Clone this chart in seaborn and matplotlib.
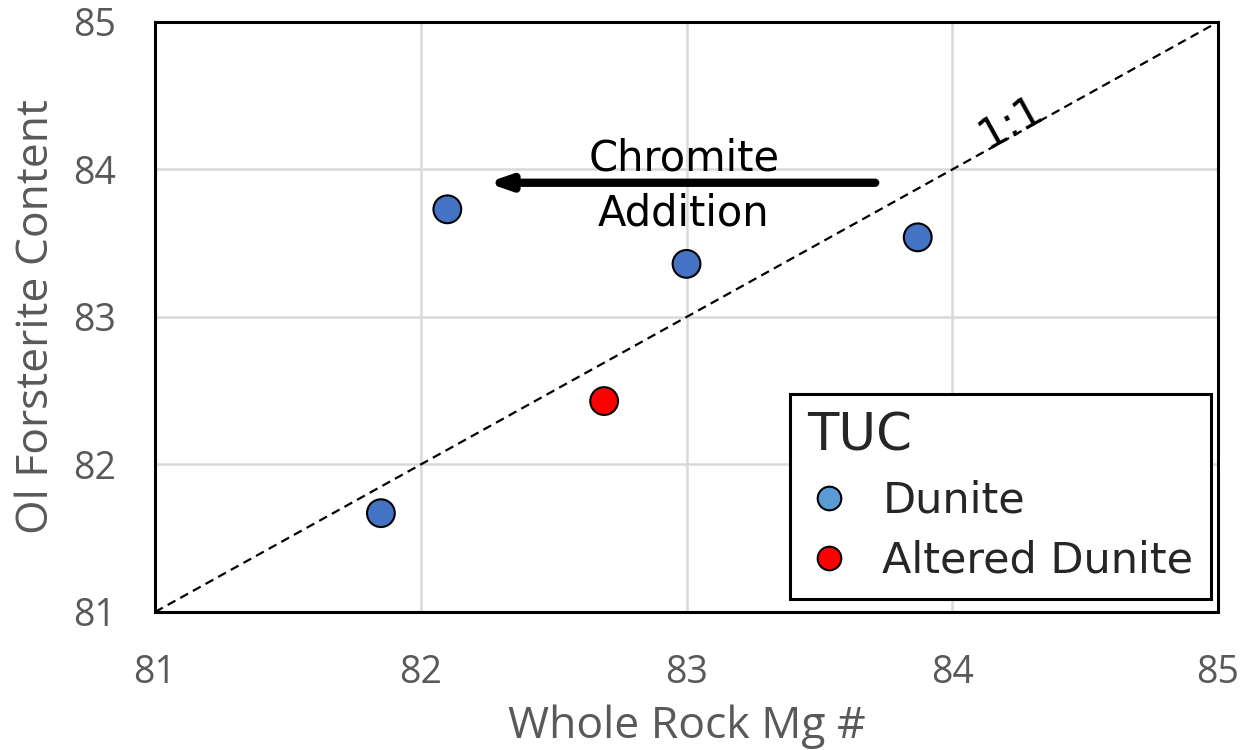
import matplotlib
matplotlib.use("Agg")
import matplotlib.pyplot as plt
import seaborn as sns
import pandas as pd
from matplotlib.lines import Line2D

# data
rock_type = ["Dunite", "Dunite", "Dunite", "Dunite", "Altered Dunite"]
whole_rock_mg = [81.85, 82.10, 83.00, 83.87, 82.69]
ol_fo = [81.67, 83.73, 83.36, 83.54, 82.43]
ticks = [81, 82, 83, 84, 85]

df = pd.DataFrame({"type": rock_type, "x": whole_rock_mg, "y": ol_fo})

sns.set_theme(style="white")
plt.rcParams['font.family'] = ['DejaVu Sans']

fig = plt.figure(figsize=(12.48, 7.5), dpi=100)
ax = fig.add_axes([0.1242, 0.184, 0.976 - 0.1242, 0.9707 - 0.184])

ax.set_xlim(81, 85)
ax.set_ylim(81, 85)
ax.set_xticks(ticks)
ax.set_yticks(ticks)
ax.grid(True, color="#d9d9d9", lw=1.8, zorder=0)
ax.set_axisbelow(True)

# 1:1 line
ax.plot([81, 85], [81, 85], color="black", lw=1.6, ls=(0, (4, 2.5)), zorder=2)

sns.scatterplot(data=df, x="x", y="y", hue="type",
                palette={"Dunite": "#4472C4", "Altered Dunite": "#FF0000"},
                s=400, edgecolor="black", linewidth=1.5, legend=False, ax=ax, zorder=3)

for sp in ax.spines.values():
    sp.set_color("black")
    sp.set_linewidth(2.2)

tick_font = dict(family=["Open Sans", "DejaVu Sans"], size=27, color="#595959")
ax.tick_params(axis="x", length=0, pad=30)
ax.tick_params(axis="y", length=0, pad=28)
ax.set_xticklabels([str(t) for t in ticks], **tick_font)
ax.set_yticklabels([str(t) for t in ticks], **tick_font)
ax.set_xlabel("Whole Rock Mg #", family=["Open Sans", "DejaVu Sans"], size=32, color="#595959", labelpad=9)
ax.set_ylabel("Ol Forsterite Content", family=["Open Sans", "DejaVu Sans"], size=32, color="#595959", labelpad=10)

# arrow
ax.annotate("", xy=(82.25, 83.91), xytext=(83.71, 83.91),
            arrowprops=dict(arrowstyle="-|>,head_length=1.0,head_width=0.35", lw=6, color="black",
                            shrinkA=0, shrinkB=0), zorder=4)
ax.text(82.99, 83.89, "Chromite\nAddition", ha="center", va="center", fontsize=30,
        color="black", linespacing=1.4, zorder=5)

# 1:1 label
ax.text(84.22, 84.32, "1:1", rotation=29, ha="center", va="center", fontsize=30,
        color="black", rotation_mode="anchor", zorder=5)

handles = [
    Line2D([0], [0], marker="o", ls="none", markerfacecolor="#5B9BD5", markeredgecolor="black",
           markersize=17, markeredgewidth=1.5, label="Dunite"),
    Line2D([0], [0], marker="o", ls="none", markerfacecolor="#FF0000", markeredgecolor="black",
           markersize=17, markeredgewidth=1.5, label="Altered Dunite"),
]
leg = ax.legend(handles=handles, title="TUC", loc="lower right", bbox_to_anchor=(0.993, 0.022),
                fontsize=31, title_fontsize=37, frameon=True, fancybox=False,
                edgecolor="black", framealpha=1, handletextpad=0.75, handlelength=1.0,
                borderpad=0.4, labelspacing=0.42, borderaxespad=0)
leg.get_frame().set_linewidth(2.2)
leg._legend_box.align = "left"

fig.savefig("out.png", dpi=100)
